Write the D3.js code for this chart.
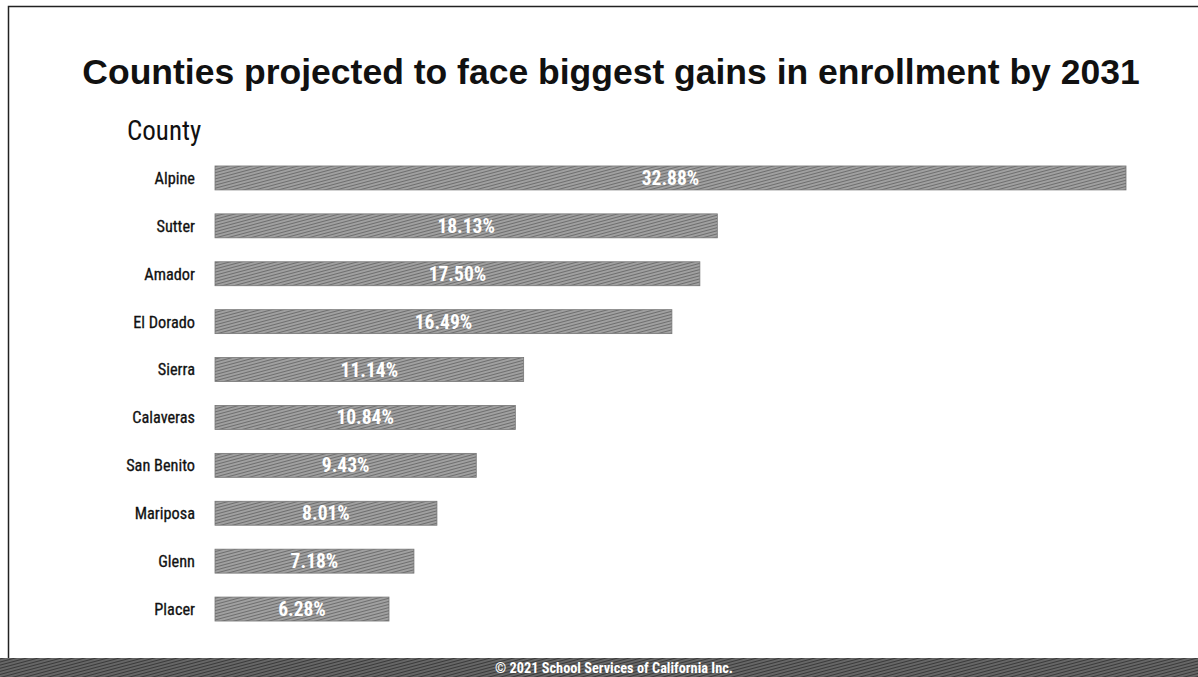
<!DOCTYPE html>
<html><head><meta charset="utf-8">
<script src="https://cdn.jsdelivr.net/npm/d3@7"></script>
<style>body{margin:0;background:#fff}</style>
</head><body>
<svg id="c" width="1198" height="677"></svg>
<script>
const counties = ["Alpine","Sutter","Amador","El Dorado","Sierra","Calaveras","San Benito","Mariposa","Glenn","Placer"];
const gains = [32.88,18.13,17.50,16.49,11.14,10.84,9.43,8.01,7.18,6.28];
const title = "Counties projected to face biggest gains in enrollment by 2031";
const axisTitle = "County";
const footer = "© 2021 School Services of California Inc.";

const svg = d3.select("#c");
const narrow = "'Roboto Condensed','Liberation Sans Narrow','Arial Narrow',sans-serif";

const defs = svg.append("defs");
const pat = defs.append("pattern").attr("id","tex").attr("patternUnits","userSpaceOnUse")
  .attr("width",5).attr("height",3).attr("patternTransform","rotate(-15)");
pat.append("rect").attr("width",5).attr("height",3).attr("fill","#a0a0a0");
pat.append("rect").attr("width",5).attr("height",1).attr("fill","#6e6e6e");
const pat2 = defs.append("pattern").attr("id","tex2").attr("patternUnits","userSpaceOnUse")
  .attr("width",5).attr("height",3).attr("patternTransform","rotate(-15)");
pat2.append("rect").attr("width",5).attr("height",3).attr("fill","#666");
pat2.append("rect").attr("width",5).attr("height",1).attr("fill","#3a3a3a");

// frame
svg.append("rect").attr("x",8.5).attr("y",6.5).attr("width",1200).attr("height",680)
  .attr("fill","none").attr("stroke","#222").attr("stroke-width",1.5);

svg.append("text").attr("x",611).attr("y",84).attr("text-anchor","middle")
  .attr("font-family","'Liberation Sans',Arial,sans-serif").attr("font-weight","bold")
  .attr("font-size",35.5).attr("fill","#111").text(title);

svg.append("text").attr("x",127).attr("y",140)
  .attr("font-family",narrow).attr("font-size",27).attr("fill","#111").text(axisTitle);

const x = d3.scaleLinear().domain([0,32.88]).range([215,1126]);
const y = d3.scaleBand().domain(counties).range([154,633]).paddingInner(0.5).paddingOuter(0.25);

const g = svg.append("g");
g.selectAll("rect.bar").data(counties).join("rect").attr("class","bar")
  .attr("x",x(0)).attr("y",d=>y(d)).attr("height",y.bandwidth())
  .attr("width",(d,i)=>x(gains[i])-x(0)).attr("fill","url(#tex)")
  .attr("stroke","#777").attr("stroke-width",0.8);

g.selectAll("text.cat").data(counties).join("text").attr("class","cat")
  .attr("x",195).attr("y",d=>y(d)+y.bandwidth()/2).attr("dy","0.36em")
  .attr("text-anchor","end").attr("font-family",narrow).attr("font-size",16.3)
  .attr("fill","#111").attr("stroke","#111").attr("stroke-width",0.3).text(d=>d);

g.selectAll("text.val").data(counties).join("text").attr("class","val")
  .attr("x",(d,i)=>(x(0)+x(gains[i]))/2).attr("y",d=>y(d)+y.bandwidth()/2).attr("dy","0.36em")
  .attr("text-anchor","middle").attr("font-family",narrow).attr("font-weight","bold")
  .attr("font-size",19.5).attr("fill","#fff").text((d,i)=>gains[i].toFixed(2)+"%");

svg.append("rect").attr("x",0).attr("y",658).attr("width",1198).attr("height",19).attr("fill","url(#tex2)");
svg.append("text").attr("x",614).attr("y",668).attr("dy","0.36em").attr("text-anchor","middle")
  .attr("font-family",narrow).attr("font-weight","bold").attr("font-size",14.3)
  .attr("fill","#fff").text(footer);
</script>
</body></html>
